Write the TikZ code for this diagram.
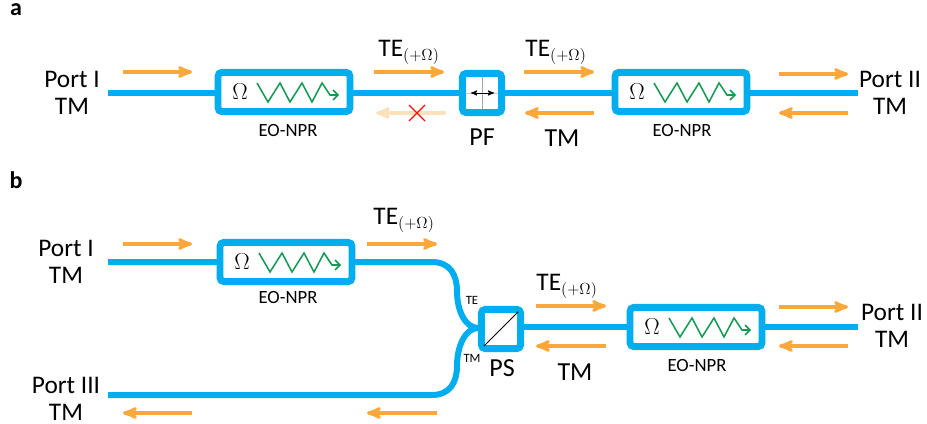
\documentclass[tikz,border=0pt]{standalone}
\usepackage{amsmath}
\usepackage{fontspec}
\setmainfont{Carlito}
\usepackage{xcolor}
\usetikzlibrary{arrows}

\definecolor{guideblue}{HTML}{00AEEF}
\definecolor{sigorange}{HTML}{FAA83C}
\definecolor{paleorange}{HTML}{FCE2BC}
\definecolor{ziggreen}{HTML}{149A52}

\newcommand{\telabel}{TE{\fontsize{17.28}{20}\selectfont$_{(+\Omega)}$}}

\tikzset{
	guide/.style={line width=4.5pt, guideblue},
	npr/.style={draw=guideblue, line width=5.2pt, fill=white, rounded corners=3pt, outer sep=0pt, minimum width=99pt, minimum height=29.5pt, inner sep=0pt},
	filterbox/.style={draw=guideblue, line width=5.2pt, fill=white, rounded corners=3pt, outer sep=0pt, minimum width=29.5pt, minimum height=29.5pt, inner sep=0pt},
	sig/.style={line width=2.4pt, sigorange, -stealth'},
	zigline/.style={line width=1.15pt, ziggreen},
	portlabel/.style={font=\fontsize{19}{20}\selectfont, align=center, inner sep=0pt},
	bigl/.style={font=\fontsize{19.5}{21}\selectfont, inner sep=0pt},
	tel/.style={font=\fontsize{19}{20}\selectfont, inner sep=0pt},
	small/.style={font=\fontsize{14}{16}\selectfont, inner sep=0pt},
	tiny/.style={font=\fontsize{9.5}{11}\selectfont, inner sep=0pt},
	panel/.style={font=\fontsize{18}{20}\selectfont\bfseries, inner sep=0pt}
}

\begin{document}
\begin{tikzpicture}[x=0.75pt, y=-0.75pt]
	\useasboundingbox (0,0) rectangle (927,424);

	% panel a
	\node[panel] (labA) at (16,10) {a};
	\node[portlabel] (portAL) at (72,93) {Port I\\TM};
	\node[portlabel] (portAR) at (890,93) {Port II\\TM};
	\coordinate (guideAL) at (108,93);
	\coordinate (guideAR) at (858,93);
	\draw[guide] (guideAL) -- (guideAR);

	\node[npr] (nprAL) at (284,92) {};
	\node[npr] (nprAR) at (681,92) {};
	\node[filterbox] (pf) at (482,93) {};
	\draw[gray!70, line width=0.5pt, shorten >=2.6pt, shorten <=2.6pt] (pf.north) -- (pf.south);
	\draw[gray!40, line width=0.4pt, shorten >=2.6pt, shorten <=2.6pt] (pf.west) -- (pf.east);
	\coordinate (pfL) at (471,93);
	\coordinate (pfR) at (494,93);
	\draw[black, line width=0.7pt, stealth'-stealth'] (pfL) -- (pfR);

	\node[small] (nameAL) at (288,131) {EO-NPR};
	\node[small] (nameAR) at (682,131) {EO-NPR};
	\node[bigl] (namePF) at (482,137) {PF};
	\node[bigl] (tmA) at (562,138) {TM};
	\node[tel] (teA1) at (409,52) {\telabel};
	\node[tel] (teA2) at (556,52) {\telabel};

	\coordinate (a1) at (123,72);
	\coordinate (a2) at (374,72);
	\coordinate (a3) at (524,72);
	\coordinate (a4) at (779,74);
	\coordinate (a5) at (594,113);
	\coordinate (a6) at (848,113);
	\coordinate (a7) at (446,113);
	\draw[sig] (a1) -- ++(69,0);
	\draw[sig] (a2) -- ++(70,0);
	\draw[sig] (a3) -- ++(70,0);
	\draw[sig] (a4) -- ++(69,0);
	\draw[sig] (a5) -- ++(-69,0);
	\draw[sig] (a6) -- ++(-69,0);
	\draw[sig, paleorange] (a7) -- ++(-70,0);

	\coordinate (crossC) at (417,113);
	\draw[red!90!orange, line width=0.9pt] (crossC) ++(-8,-8) -- ++(16,16) ++(-16,0) -- ++(16,-16);

	% panel b
	\node[panel] (labB) at (16,180) {b};
	\node[portlabel] (portBT) at (66,262) {Port I\\TM};
	\node[portlabel] (portBB) at (66,399) {Port III\\TM};
	\node[portlabel] (portBR) at (892,326) {Port II\\TM};
	\coordinate (guideBT) at (108,262);
	\coordinate (guideBB) at (108,395);
	\coordinate (guideBR) at (858,327);
	\coordinate (bendT) at (432,262);
	\coordinate (bendB) at (432,395);
	\coordinate (psIn) at (478,328);
	\coordinate (psOut) at (524,327);

	\draw[guide] (guideBT) -- (bendT) .. controls (450,262) and (457,275) .. (457,291) .. controls (457,312) and (466,328) .. (psIn);
	\draw[guide] (guideBB) -- (bendB) .. controls (450,395) and (457,382) .. (457,366) .. controls (457,345) and (466,328) .. (psIn);
	\draw[guide] (psOut) -- (guideBR);
	\node[filterbox] (ps) at (501,329) {};
	\draw[black, line width=0.7pt, shorten >=2.6pt, shorten <=2.6pt] (ps.south west) -- (ps.north east);

	\node[npr] (nprBT) at (286,262) {};
	\node[npr] (nprBR) at (696,327) {};

	\node[small] (nameBT) at (288,298) {EO-NPR};
	\node[small] (nameBR) at (697,366) {EO-NPR};
	\node[bigl] (namePS) at (502,368) {PS};
	\node[bigl] (tmB) at (575,372) {TM};
	\node[tiny] (teS) at (472,300) {TE};
	\node[tiny] (tmS) at (472,358) {TM};
	\node[tel] (teB1) at (404,220) {\telabel};
	\node[tel] (teB2) at (567,286) {\telabel};

	\coordinate (b1) at (123,244);
	\coordinate (b2) at (367,244);
	\coordinate (b3) at (536,306);
	\coordinate (b4) at (779,307);
	\coordinate (b5) at (606,346);
	\coordinate (b6) at (848,346);
	\coordinate (b7) at (192,413);
	\coordinate (b8) at (437,413);
	\draw[sig] (b1) -- ++(69,0);
	\draw[sig] (b2) -- ++(70,0);
	\draw[sig] (b3) -- ++(70,0);
	\draw[sig] (b4) -- ++(69,0);
	\draw[sig] (b5) -- ++(-70,0);
	\draw[sig] (b6) -- ++(-69,0);
	\draw[sig] (b7) -- ++(-69,0);
	\draw[sig] (b8) -- ++(-70,0);

	% the four modulator boxes
	\foreach \b in {nprAL,nprAR,nprBT,nprBR} {
		\node[font=\fontsize{18}{20}\selectfont, inner sep=0pt] at ([xshift=-33pt]\b.center) {$\Omega$};
		\draw[zigline, shift={(\b.center)}] (-27,-9) -- (-16,10) -- (-4,-9) -- (6,10) -- (18,-9) -- (28,10) -- (38,-9) -- (46,3) -- (54,3);
		\draw[zigline, shift={(\b.center)}] (49,-2) -- (54,3) -- (49,8);
	}
\end{tikzpicture}
\end{document}
